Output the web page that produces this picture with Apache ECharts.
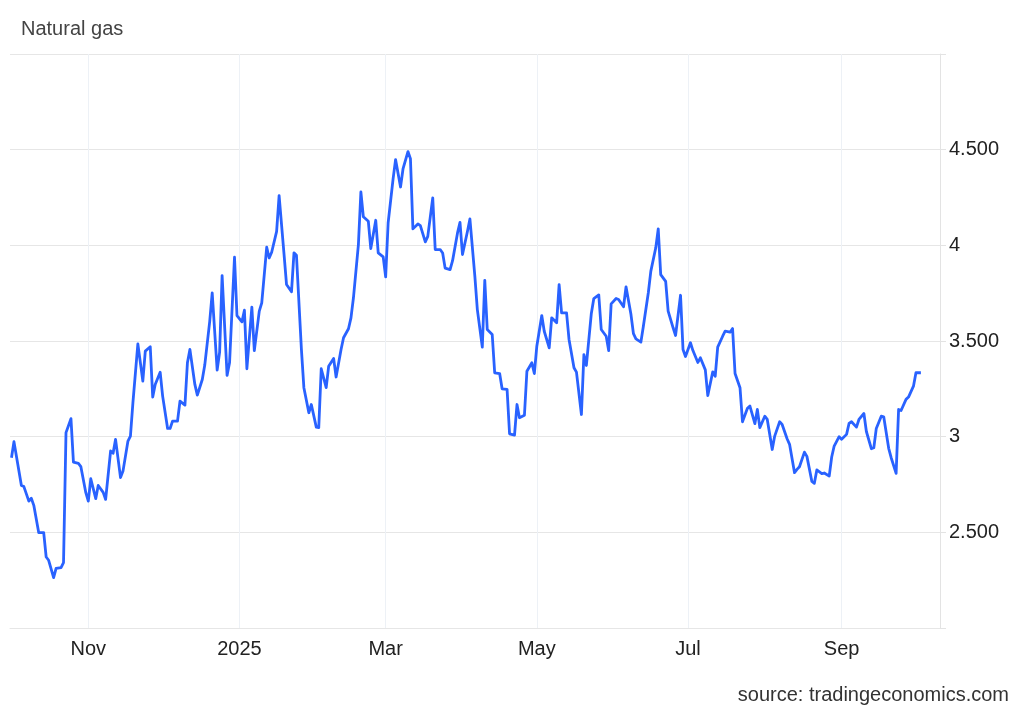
<!DOCTYPE html>
<html>
<head>
<meta charset="utf-8">
<script src="https://cdn.jsdelivr.net/npm/echarts@6/dist/echarts.min.js"></script>
<style>
  html, body { margin: 0; padding: 0; background: #ffffff; }
  #chart { width: 1024px; height: 710px; }
</style>
</head>
<body>
<div id="chart"></div>
<script>
// ---- data ----
const dates = [
  '2024-10-01','2024-10-02','2024-10-05','2024-10-06','2024-10-08','2024-10-09','2024-10-10','2024-10-12','2024-10-14','2024-10-15',
  '2024-10-16','2024-10-18','2024-10-19','2024-10-21','2024-10-22','2024-10-23','2024-10-25','2024-10-26','2024-10-28','2024-10-29','2024-10-31',
  '2024-11-01','2024-11-02','2024-11-04','2024-11-05','2024-11-07','2024-11-08','2024-11-10','2024-11-11','2024-11-12','2024-11-14',
  '2024-11-15','2024-11-17','2024-11-18','2024-11-19','2024-11-21','2024-11-23','2024-11-24','2024-11-26','2024-11-27','2024-11-28','2024-11-30',
  '2024-12-01','2024-12-03','2024-12-04','2024-12-05','2024-12-07','2024-12-08','2024-12-10','2024-12-11','2024-12-12','2024-12-14',
  '2024-12-15','2024-12-17','2024-12-18','2024-12-20','2024-12-21','2024-12-23','2024-12-24','2024-12-25','2024-12-27','2024-12-28','2024-12-30','2024-12-31',
  '2025-01-02','2025-01-03','2025-01-04','2025-01-06','2025-01-07','2025-01-09','2025-01-10','2025-01-12','2025-01-13','2025-01-14',
  '2025-01-16','2025-01-17','2025-01-19','2025-01-20','2025-01-22','2025-01-23','2025-01-24','2025-01-26','2025-01-27','2025-01-29','2025-01-30',
  '2025-02-01','2025-02-02','2025-02-03','2025-02-05','2025-02-06','2025-02-08','2025-02-09','2025-02-11','2025-02-12','2025-02-14',
  '2025-02-15','2025-02-16','2025-02-18','2025-02-19','2025-02-20','2025-02-22','2025-02-23','2025-02-25','2025-02-26','2025-02-28',
  '2025-03-01','2025-03-02','2025-03-04','2025-03-05','2025-03-07','2025-03-08','2025-03-10','2025-03-11','2025-03-12','2025-03-14',
  '2025-03-15','2025-03-17','2025-03-18','2025-03-20','2025-03-21','2025-03-23','2025-03-24','2025-03-25','2025-03-27','2025-03-28','2025-03-30','2025-03-31',
  '2025-04-01','2025-04-03','2025-04-04','2025-04-06','2025-04-07','2025-04-09','2025-04-10','2025-04-11','2025-04-13','2025-04-14',
  '2025-04-16','2025-04-17','2025-04-19','2025-04-20','2025-04-22','2025-04-23','2025-04-24','2025-04-26','2025-04-27','2025-04-29','2025-04-30',
  '2025-05-01','2025-05-03','2025-05-04','2025-05-06','2025-05-07','2025-05-09','2025-05-10','2025-05-11','2025-05-13','2025-05-14',
  '2025-05-16','2025-05-17','2025-05-19','2025-05-20','2025-05-21','2025-05-23','2025-05-24','2025-05-26','2025-05-27','2025-05-29','2025-05-30','2025-05-31',
  '2025-06-02','2025-06-03','2025-06-05','2025-06-06','2025-06-08','2025-06-09','2025-06-10','2025-06-12','2025-06-13','2025-06-15',
  '2025-06-16','2025-06-18','2025-06-19','2025-06-20','2025-06-22','2025-06-23','2025-06-25','2025-06-26','2025-06-28','2025-06-29','2025-06-30',
  '2025-07-02','2025-07-03','2025-07-05','2025-07-06','2025-07-08','2025-07-09','2025-07-11','2025-07-12','2025-07-13','2025-07-15',
  '2025-07-16','2025-07-18','2025-07-19','2025-07-20','2025-07-22','2025-07-23','2025-07-25','2025-07-26','2025-07-28','2025-07-29','2025-07-30',
  '2025-08-01','2025-08-02','2025-08-04','2025-08-05','2025-08-07','2025-08-08','2025-08-10','2025-08-11','2025-08-13','2025-08-14',
  '2025-08-15','2025-08-17','2025-08-18','2025-08-20','2025-08-21','2025-08-22','2025-08-24','2025-08-25','2025-08-27','2025-08-28','2025-08-29','2025-08-31',
  '2025-09-01','2025-09-03','2025-09-04','2025-09-05','2025-09-07','2025-09-08','2025-09-10','2025-09-11','2025-09-13','2025-09-14',
  '2025-09-15','2025-09-17','2025-09-18','2025-09-20','2025-09-21','2025-09-23','2025-09-24','2025-09-25','2025-09-27','2025-09-28','2025-09-30',
  '2025-10-01','2025-10-03'
];
const prices = [
  2.890,2.974,2.745,2.739,2.663,2.678,2.641,2.498,2.498,2.371,
  2.354,2.263,2.312,2.316,2.342,3.021,3.094,2.867,2.860,2.843,2.707,
  2.663,2.780,2.676,2.745,2.709,2.672,2.925,2.913,2.986,2.786,
  2.820,2.977,3.003,3.177,3.485,3.290,3.447,3.470,3.207,3.273,3.337,
  3.212,3.043,3.043,3.081,3.081,3.186,3.165,3.386,3.456,3.273,
  3.217,3.299,3.374,3.603,3.752,3.348,3.442,3.842,3.320,3.386,3.938,3.633,
  3.600,3.661,3.355,3.677,3.450,3.656,3.699,3.990,3.934,3.964,
  4.073,4.260,3.952,3.795,3.757,3.961,3.948,3.456,3.256,3.125,3.168,
  3.050,3.047,3.355,3.256,3.368,3.409,3.312,3.456,3.517,3.564,
  3.621,3.726,4.004,4.279,4.149,4.126,3.983,4.131,3.961,3.940,
  3.835,4.117,4.347,4.448,4.305,4.399,4.490,4.453,4.086,4.112,
  4.103,4.018,4.047,4.248,3.978,3.978,3.960,3.881,3.873,3.920,4.065,4.120,
  3.952,4.072,4.138,3.838,3.664,3.468,3.817,3.560,3.534,3.334,
  3.330,3.250,3.247,3.015,3.008,3.168,3.099,3.112,3.342,3.386,3.330,
  3.473,3.633,3.551,3.464,3.621,3.595,3.795,3.647,3.647,3.508,
  3.360,3.337,3.116,3.429,3.372,3.644,3.722,3.741,3.560,3.525,3.450,3.694,
  3.722,3.717,3.679,3.783,3.638,3.538,3.511,3.494,3.577,3.752,
  3.864,3.987,4.086,3.847,3.812,3.656,3.569,3.529,3.739,3.456,3.419,
  3.491,3.450,3.388,3.412,3.349,3.215,3.339,3.316,3.468,3.525,
  3.551,3.546,3.565,3.330,3.256,3.078,3.148,3.160,3.068,3.142,3.047,
  3.107,3.090,2.933,3.003,3.078,3.064,2.989,2.960,2.812,2.829,
  2.843,2.919,2.897,2.766,2.756,2.826,2.807,2.810,2.794,2.894,2.951,3.000,
  2.986,3.012,3.069,3.078,3.050,3.090,3.121,3.027,2.937,2.942,
  3.043,3.107,3.104,2.939,2.890,2.808,3.142,3.137,3.195,3.207,3.264,
  3.334,3.334
];
const xTickDates = ['2024-11-01','2025-01-01','2025-03-01','2025-05-01','2025-07-01','2025-09-01'];
const xTickLabels = ['Nov','2025','Mar','May','Jul','Sep'];
const yTickValues = [2, 2.5, 3, 3.5, 4, 4.5, 5];
const yTickLabels = ['', '2.500', '3', '3.500', '4', '4.500', ''];
const titleText = 'Natural gas';
const sourceText = 'source: tradingeconomics.com';

// ---- helpers ----
function toTs(s) {
  const p = s.split('-').map(Number);
  return new Date(p[0], p[1] - 1, p[2]).getTime();
}
const seriesData = dates.map((d, i) => [toTs(d), prices[i]]);
const monthLines = xTickDates.map((d, i) => ({ xAxis: toTs(d), name: xTickLabels[i] }));

const FONT = 'Arial, "Liberation Sans", sans-serif';
const chart = echarts.init(document.getElementById('chart'), null, { renderer: 'canvas' });

chart.setOption({
  animation: false,
  backgroundColor: '#ffffff',
  textStyle: { fontFamily: FONT },
  title: [
    { text: titleText, left: 16, top: 14,
      textStyle: { fontFamily: FONT, fontSize: 20, fontWeight: 'normal', color: '#444444' } },
    { text: sourceText, right: 10, top: 680,
      textStyle: { fontFamily: FONT, fontSize: 20, fontWeight: 'normal', color: '#333333' } }
  ],
  grid: { left: 10, right: 84, top: 54, bottom: 82 },
  xAxis: {
    type: 'time',
    min: new Date(2024, 8, 30, 9, 36).getTime(),
    max: new Date(2025, 9, 10, 17, 0).getTime(),
    axisLine: { show: true, lineStyle: { color: '#e6e6e6', width: 1 } },
    axisTick: { show: false },
    axisLabel: { show: false },
    splitLine: { show: false }
  },
  yAxis: {
    type: 'value',
    position: 'right',
    min: 2, max: 5, interval: 0.5,
    axisLine: { show: true, lineStyle: { color: '#e3e3e3', width: 1 } },
    axisTick: { show: true, length: 6, lineStyle: { color: '#e3e3e3' } },
    axisLabel: {
      margin: 9,
      fontFamily: FONT, fontSize: 20, color: '#222222',
      formatter: function (v) {
        const i = yTickValues.findIndex(t => Math.abs(t - v) < 1e-6);
        return i >= 0 ? yTickLabels[i] : '';
      }
    },
    splitLine: { show: true, lineStyle: { color: '#e6e6e6', width: 1 } }
  },
  series: [
    {
      // month grid lines + month labels, placed through the time axis scale
      type: 'line',
      data: [],
      silent: true,
      z: 1,
      markLine: {
        silent: true,
        symbol: 'none',
        animation: false,
        lineStyle: { color: '#edf1f6', width: 1, type: 'solid' },
        label: {
          show: true, position: 'start', distance: 11,
          formatter: '{b}',
          fontFamily: FONT, fontSize: 20, color: '#222222'
        },
        emphasis: { disabled: true },
        data: monthLines
      }
    },
    {
      type: 'line',
      data: seriesData,
      showSymbol: false,
      symbol: 'none',
      lineStyle: { color: '#2962ff', width: 2.8, join: 'round' },
      itemStyle: { color: '#2962ff' },
      z: 5
    }
  ]
});
</script>
</body>
</html>
